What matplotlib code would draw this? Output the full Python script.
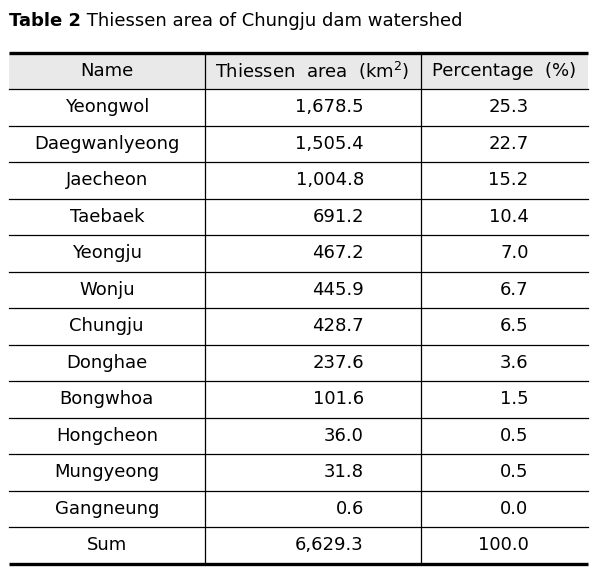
import matplotlib.pyplot as plt

# table data
names = ["Yeongwol", "Daegwanlyeong", "Jaecheon", "Taebaek", "Yeongju", "Wonju",
         "Chungju", "Donghae", "Bongwhoa", "Hongcheon", "Mungyeong", "Gangneung", "Sum"]
areas = ["1,678.5", "1,505.4", "1,004.8", "691.2", "467.2", "445.9",
         "428.7", "237.6", "101.6", "36.0", "31.8", "0.6", "6,629.3"]
percents = ["25.3", "22.7", "15.2", "10.4", "7.0", "6.7",
            "6.5", "3.6", "1.5", "0.5", "0.5", "0.0", "100.0"]
headers = ["Name", "Thiessen  area  (km$^2$)", "Percentage  (%)"]

plt.rcParams['font.family'] = ['DejaVu Sans']
fig = plt.figure(figsize=(6, 5.73), dpi=100)
ax = fig.add_axes([0, 0, 1, 1])
ax.set_xlim(0, 600)
ax.set_ylim(573, 0)
ax.axis('off')

left, right = 9, 588
col1, col2 = 204.5, 420.5
top, rowh = 52.5, 36.5
nrows = len(names) + 1
fs = 13

# title
t1 = ax.text(left, 21, "Table 2", fontsize=fs, fontweight='bold', va='center', ha='left')
ax.annotate(" Thiessen area of Chungju dam watershed", xy=(1, 0.5), xycoords=t1,
            fontsize=fs, va='center', ha='left')

# header background
ax.fill_between([left, right], top, top + rowh, color='#e9e9e9', lw=0)

# header
hx = [(left + col1) / 2, (col1 + col2) / 2, (col2 + right) / 2]
for x, h in zip(hx, headers):
    ax.text(x, top + rowh / 2, h, fontsize=fs, ha='center', va='center')

# body
for i in range(len(names)):
    y = top + rowh * (i + 1.5)
    ax.text(hx[0], y, names[i], fontsize=fs, ha='center', va='center')
    ax.text(364, y, areas[i], fontsize=fs, ha='right', va='center')
    ax.text(528.5, y, percents[i], fontsize=fs, ha='right', va='center')

# lines
bottom = top + rowh * nrows
ax.plot([left, right], [top, top], color='black', lw=2.4, solid_capstyle='butt')
ax.plot([left, right], [bottom, bottom], color='black', lw=2.4, solid_capstyle='butt')
for k in range(1, nrows):
    y = top + rowh * k
    ax.plot([left, right], [y, y], color='black', lw=0.9)
for x in [col1, col2]:
    ax.plot([x, x], [top, bottom], color='black', lw=0.9)

fig.savefig("out.png", dpi=100)
